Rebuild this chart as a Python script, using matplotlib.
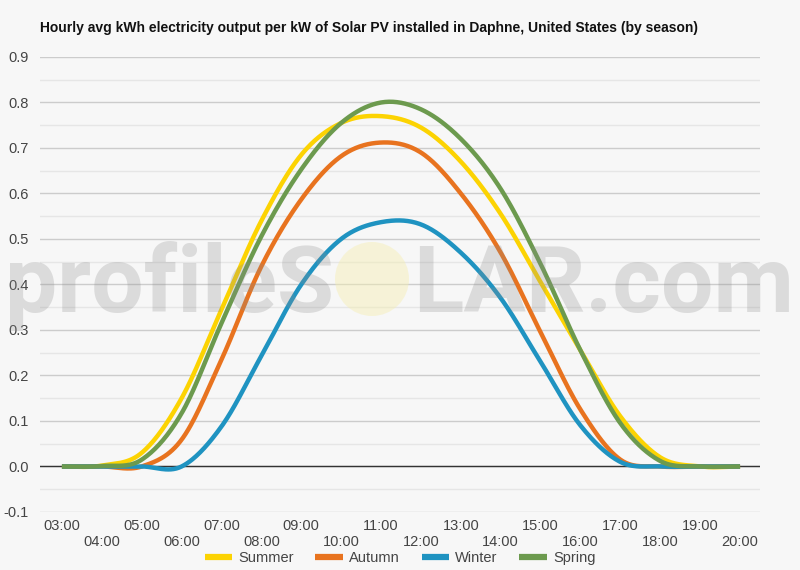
import numpy as np
import matplotlib
matplotlib.use("Agg")
import matplotlib.pyplot as plt
from matplotlib.patches import Ellipse

# hourly averages, 03:00 .. 20:00
hours = list(range(3, 21))
hour_labels = [f"{h:02d}:00" for h in hours]

summer = [0, 0.002, 0.03, 0.15, 0.345, 0.54, 0.685, 0.755, 0.77, 0.745, 0.67, 0.555, 0.405, 0.255, 0.11, 0.02, 0, 0]
autumn = [0, 0, 0, 0.059, 0.235, 0.44, 0.587, 0.682, 0.712, 0.69, 0.60, 0.47, 0.295, 0.125, 0.015, 0, 0, 0]
winter = [0, 0, 0, 0, 0.088, 0.243, 0.40, 0.50, 0.537, 0.532, 0.47, 0.37, 0.23, 0.09, 0.01, 0, 0, 0]
spring = [0, 0.001, 0.015, 0.117, 0.315, 0.506, 0.653, 0.755, 0.80, 0.785, 0.72, 0.61, 0.445, 0.255, 0.095, 0.012, 0, 0]

series = [("Summer", summer, "#fcd302"),
          ("Autumn", autumn, "#e8731f"),
          ("Winter", winter, "#1f93c1"),
          ("Spring", spring, "#6c9a4e")]


def smooth(x, y, n=30):
    # Catmull-Rom style curve through the points (overshoots a little, like the original)
    x = np.asarray(x, float)
    y = np.asarray(y, float)
    m = np.zeros_like(y)
    m[1:-1] = (y[2:] - y[:-2]) / (x[2:] - x[:-2])
    xs, ys = [], []
    for i in range(len(x) - 1):
        h = x[i + 1] - x[i]
        t = np.linspace(0, 1, n, endpoint=False)
        h00 = 2 * t**3 - 3 * t**2 + 1
        h10 = t**3 - 2 * t**2 + t
        h01 = -2 * t**3 + 3 * t**2
        h11 = t**3 - t**2
        xs.append(x[i] + t * h)
        ys.append(h00 * y[i] + h10 * h * m[i] + h01 * y[i + 1] + h11 * h * m[i + 1])
    xs.append([x[-1]])
    ys.append([y[-1]])
    return np.concatenate(xs), np.concatenate(ys)


bg = "#f7f7f7"
fig = plt.figure(figsize=(8, 5.7), dpi=100, facecolor=bg)
ax = fig.add_axes([0.05, 0.1018, 0.9, 0.7982])
ax.set_facecolor(bg)

for name, vals, col in series:
    sx, sy = smooth(hours, vals)
    ax.plot(sx, sy, color=col, lw=3.2, label=name, solid_capstyle="butt", zorder=3)

ax.set_xlim(2.45, 20.5)
ax.set_ylim(-0.1, 0.9)
ax.set_yticks(np.arange(-0.1, 0.91, 0.1))
ax.set_yticks(np.arange(-0.05, 0.9, 0.1), minor=True)
ax.set_yticklabels([f"{v:.1f}" for v in np.arange(-0.1, 0.91, 0.1)])
ax.grid(axis="y", which="major", color="#cccccc", lw=1)
ax.grid(axis="y", which="minor", color="#e6e6e6", lw=1)
ax.axhline(0, color="#333333", lw=1, zorder=2)
ax.set_axisbelow(True)

ax.set_xticks(hours)
ax.set_xticklabels([lab if i % 2 == 0 else "\n" + lab for i, lab in enumerate(hour_labels)])
ax.tick_params(axis="both", which="both", length=0, labelsize=10.5, labelcolor="#444444")
ax.tick_params(axis="x", pad=5)
ax.tick_params(axis="y", pad=8)
for lab in ax.get_xticklabels() + ax.get_yticklabels():
    lab.set_fontfamily("Liberation Sans")
for s in ax.spines.values():
    s.set_visible(False)

fig.text(0.05, 0.951, "Hourly avg kWh electricity output per kW of Solar PV installed in Daphne, United States (by season)",
         fontsize=10, fontweight="bold", family="Liberation Sans", color="#111111", va="center")

leg = fig.legend(loc="center", bbox_to_anchor=(0.5, 0.021), ncol=4, frameon=False,
                 prop={"family": "Liberation Sans", "size": 10.5}, handlelength=1.9,
                 handletextpad=0.4, columnspacing=1.5)
for t in leg.get_texts():
    t.set_color("#444444")
for h in leg.legend_handles:
    h.set_linewidth(4.5)

# watermark
wm = dict(fontsize=67, family="Roboto", fontweight="bold", color="#8c8c8c", alpha=0.26,
          va="baseline", zorder=10)
fig.text(334 / 800, 1 - 312 / 570, "profileS", ha="right", **wm)
fig.text(413 / 800, 1 - 312 / 570, "LAR.com", ha="left", **wm)
sun = Ellipse((372 / 800, 1 - 279 / 570), 74 / 800, 74 / 570, transform=fig.transFigure,
              facecolor="#f5eeb0", edgecolor="none", alpha=0.45, zorder=9)
fig.add_artist(sun)

fig.savefig("out.png", dpi=100, facecolor=bg)
